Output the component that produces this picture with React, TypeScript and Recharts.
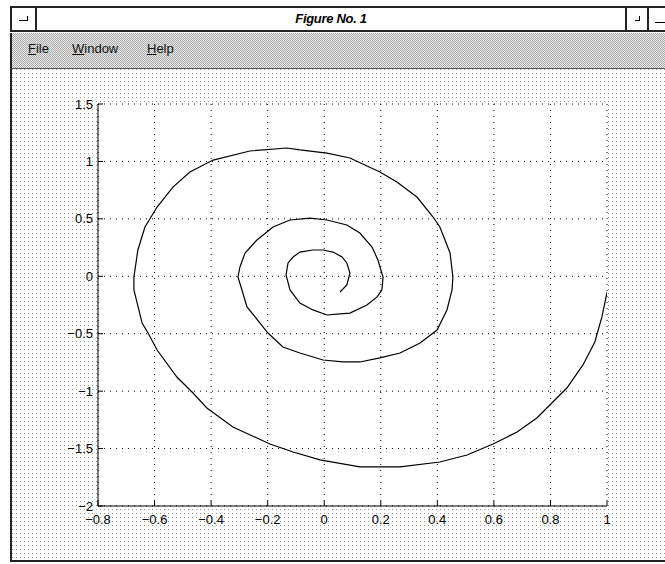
import { LineChart, Line, XAxis, YAxis, CartesianGrid } from "recharts";

// spiral, inner end first
const spiralX = [
  0.056, 0.08, 0.091, 0.08, 0.063, 0.031, -0.004, -0.04, -0.086, -0.11, -0.128, -0.135,
  -0.121, -0.086, -0.04, 0.01, 0.056, 0.091, 0.151, 0.187, 0.204, 0.208, 0.19, 0.169,
  0.126, 0.08, 0.01, -0.05, -0.121, -0.181, -0.238, -0.28, -0.298, -0.305, -0.291, -0.273,
  -0.227, -0.199, -0.146, -0.086, -0.004, 0.066, 0.126, 0.197, 0.268, 0.339, 0.399, 0.434,
  0.452, 0.455, 0.445, 0.409, 0.385, 0.328, 0.257, 0.197, 0.091, 0.01, -0.086, -0.132,
  -0.263, -0.393, -0.475, -0.535, -0.591, -0.634, -0.659, -0.673, -0.673, -0.644, -0.623, -0.591,
  -0.521, -0.464, -0.415, -0.323, -0.192, -0.11, -0.015, 0.126, 0.268, 0.409, 0.505, 0.597,
  0.682, 0.752, 0.798, 0.858, 0.915, 0.957, 0.982, 0.995, 1.0,
];
const spiralY = [
  -0.137, -0.076, 0.029, 0.116, 0.168, 0.211, 0.229, 0.229, 0.211, 0.168, 0.116, 0.011,
  -0.119, -0.233, -0.293, -0.337, -0.328, -0.32, -0.25, -0.18, -0.119, -0.006, 0.142, 0.255,
  0.377, 0.447, 0.49, 0.507, 0.49, 0.429, 0.316, 0.203, 0.081, -0.006, -0.119, -0.267,
  -0.407, -0.494, -0.616, -0.668, -0.729, -0.746, -0.746, -0.711, -0.668, -0.581, -0.468, -0.293,
  -0.119, -0.006, 0.203, 0.429, 0.516, 0.69, 0.821, 0.908, 1.03, 1.073, 1.1, 1.117,
  1.091, 1.012, 0.908, 0.777, 0.603, 0.429, 0.229, -0.006, -0.119, -0.407, -0.494, -0.642,
  -0.877, -1.016, -1.147, -1.312, -1.46, -1.53, -1.599, -1.66, -1.66, -1.617, -1.556, -1.46,
  -1.356, -1.234, -1.121, -0.973, -0.772, -0.572, -0.354, -0.2, -0.14,
];

const xTicks = [-0.8, -0.6, -0.4, -0.2, 0, 0.2, 0.4, 0.6, 0.8, 1];
const yTicks = [-2, -1.5, -1, -0.5, 0, 0.5, 1, 1.5];
const menuItems = ["File", "Window", "Help"];

const data = spiralX.map((x, i) => ({ x, y: spiralY[i] }));

const fmt = (v: number) => (v < 0 ? "\u2212" + String(-v) : String(v));

const font = '"Liberation Sans", Arial, sans-serif';
const tickStyle = { fontSize: 13, fill: "#000", fontFamily: font };

const dots = "conic-gradient(from 270deg at 1px 1px, #9a9a9a 90deg, transparent 0)";
const checker = "repeating-conic-gradient(#a8a8a8 0 25%, #ececec 0 50%)";

function Box({ left, width, children }: { left: number; width: number; children?: any }) {
  return (
    <div
      style={{
        position: "absolute",
        left,
        top: 6,
        width,
        height: 26,
        boxSizing: "border-box",
        border: "2px solid #222",
        background: "#fff",
      }}
    >
      {children}
    </div>
  );
}

export default function App() {
  return (
    <div
      style={{
        position: "absolute",
        left: 0,
        top: 0,
        width: 665,
        height: 564,
        overflow: "hidden",
        background: "#fff",
        fontFamily: font,
      }}
    >
      {/* title bar */}
      <Box left={10} width={27}>
        <div style={{ position: "absolute", left: 7, top: 8, width: 8, height: 4, borderBottom: "1px solid #000", borderRight: "1px solid #000" }} />
      </Box>
      <Box left={35} width={592}>
        <div style={{ textAlign: "center", fontStyle: "italic", fontWeight: "bold", fontSize: 13, lineHeight: "22px", letterSpacing: -0.3 }}>
          Figure No. 1
        </div>
      </Box>
      <Box left={625} width={24}>
        <div style={{ position: "absolute", left: 8, top: 8, width: 4, height: 4, borderBottom: "1px solid #000", borderRight: "1px solid #000" }} />
      </Box>
      <Box left={647} width={30}>
        <div style={{ position: "absolute", left: 6, top: 14, width: 14, borderBottom: "1px solid #000" }} />
      </Box>

      {/* menu bar */}
      <div
        style={{
          position: "absolute",
          left: 10,
          top: 33,
          width: 665,
          height: 36,
          boxSizing: "border-box",
          borderLeft: "2px solid #222",
          borderBottom: "1px solid #555",
          background: checker,
          backgroundSize: "2px 2px",
        }}
      >
        {menuItems.map((m, i) => (
          <span
            key={m}
            style={{ position: "absolute", left: [16, 60, 135][i], top: 8, fontSize: 13, color: "#111" }}
          >
            <span style={{ textDecoration: "underline" }}>{m[0]}</span>
            {m.slice(1)}
          </span>
        ))}
      </div>

      {/* figure area */}
      <div
        style={{
          position: "absolute",
          left: 10,
          top: 69,
          width: 665,
          height: 493,
          boxSizing: "border-box",
          borderLeft: "2px solid #222",
          borderBottom: "2px solid #222",
          backgroundColor: "#fff",
          backgroundImage: dots,
          backgroundSize: "4px 4px",
        }}
      />

      <div style={{ position: "absolute", left: 0, top: 0 }}>
        <LineChart
          width={665}
          height={564}
          data={data}
          margin={{ top: 104, right: 58, bottom: 28, left: 58 }}
        >
          <CartesianGrid fill="#fff" stroke="#000" strokeDasharray="1 5" />
          <XAxis
            dataKey="x"
            type="number"
            domain={[-0.8, 1]}
            ticks={xTicks}
            tickFormatter={fmt}
            interval={0}
            height={30}
            tickSize={-5}
            tickMargin={14}
            axisLine={{ stroke: "#000" }}
            tickLine={{ stroke: "#000" }}
            tick={tickStyle}
            allowDataOverflow
          />
          <XAxis
            xAxisId="top"
            orientation="top"
            dataKey="x"
            type="number"
            domain={[-0.8, 1]}
            ticks={xTicks}
            interval={0}
            height={0}
            tickSize={-5}
            tick={false}
            axisLine={{ stroke: "#000" }}
            tickLine={{ stroke: "#000" }}
            allowDataOverflow
          />
          <YAxis
            type="number"
            domain={[-2, 1.5]}
            ticks={yTicks}
            tickFormatter={fmt}
            interval={0}
            width={40}
            tickSize={-5}
            tickMargin={10}
            axisLine={{ stroke: "#000" }}
            tickLine={{ stroke: "#000" }}
            tick={tickStyle}
            allowDataOverflow
          />
          <YAxis
            yAxisId="right"
            orientation="right"
            type="number"
            domain={[-2, 1.5]}
            ticks={yTicks}
            interval={0}
            width={0}
            tickSize={-5}
            tick={false}
            axisLine={{ stroke: "#000" }}
            tickLine={{ stroke: "#000" }}
            allowDataOverflow
          />
          <Line
            dataKey="y"
            type="linear"
            stroke="#000"
            strokeWidth={1.2}
            dot={false}
            isAnimationActive={false}
          />
        </LineChart>
      </div>
    </div>
  );
}
